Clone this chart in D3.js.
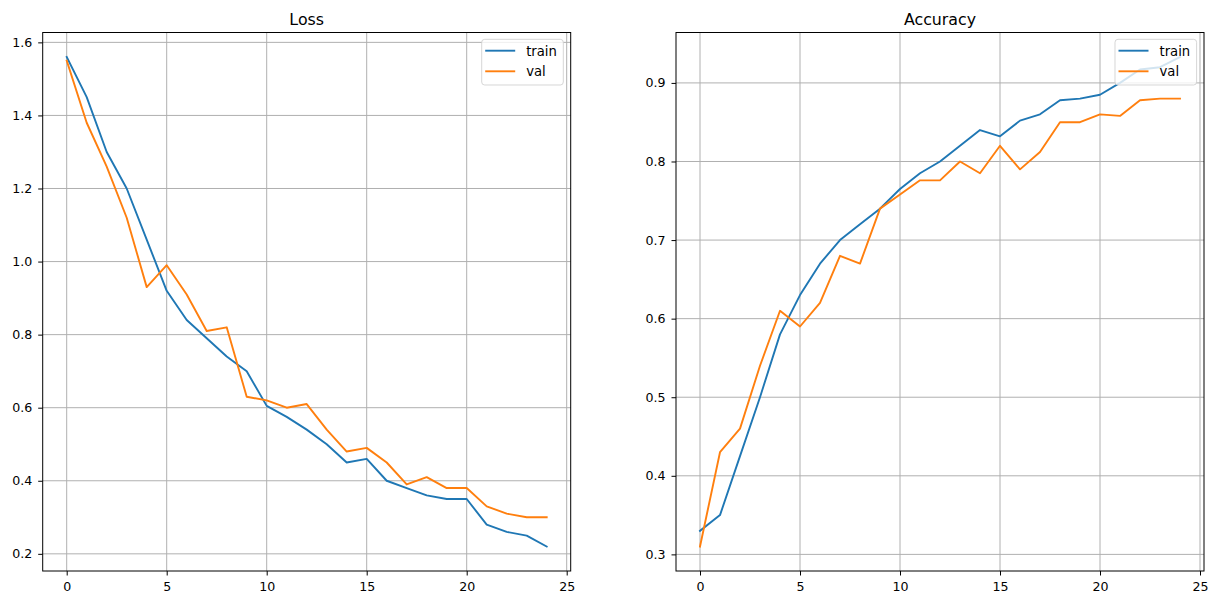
<!DOCTYPE html>
<html>
<head>
<meta charset="utf-8">
<script src="https://cdn.jsdelivr.net/npm/d3@7"></script>
<style>
  html, body { margin: 0; padding: 0; background: #fff; }
  svg { display: block; font-family: "DejaVu Sans", sans-serif; }
</style>
</head>
<body>
<svg id="chart" width="1219" height="605"></svg>
<script>
const epochs = [0,1,2,3,4,5,6,7,8,9,10,11,12,13,14,15,16,17,18,19,20,21,22,23,24];
const lossTrain = [1.56,1.45,1.30,1.20,1.06,0.92,0.84,0.79,0.74,0.70,0.605,0.575,0.54,0.50,0.45,0.46,0.40,0.38,0.36,0.35,0.35,0.28,0.26,0.25,0.22];
const lossVal   = [1.55,1.38,1.26,1.12,0.93,0.99,0.91,0.81,0.82,0.63,0.62,0.60,0.61,0.54,0.48,0.49,0.45,0.39,0.41,0.38,0.38,0.33,0.31,0.30,0.30];
const accTrain  = [0.33,0.35,0.425,0.50,0.58,0.63,0.67,0.70,0.72,0.74,0.765,0.785,0.80,0.82,0.84,0.832,0.852,0.86,0.878,0.88,0.885,0.90,0.917,0.92,0.933];
const accVal    = [0.31,0.43,0.46,0.54,0.61,0.59,0.62,0.68,0.67,0.74,0.758,0.776,0.776,0.80,0.785,0.82,0.79,0.812,0.85,0.85,0.86,0.858,0.878,0.88,0.88];
const xTicks = [0,5,10,15,20,25];
const lossTicks = [0.2,0.4,0.6,0.8,1.0,1.2,1.4,1.6];
const accTicks = [0.3,0.4,0.5,0.6,0.7,0.8,0.9];
const seriesNames = ["train","val"];
const titles = ["Loss","Accuracy"];

const colors = ["#1f77b4","#ff7f0e"];
const svg = d3.select("#chart");
svg.append("rect").attr("width",1219).attr("height",605).attr("fill","#fff");

function panel(left, right, title, series, yTicks, fmt) {
  const top = 32.5, bottom = 571;
  const xs = d3.scaleLinear().domain([-1.2, 25.2]).range([left, right]);
  const all = series.flat();
  const mn = d3.min(all), mx = d3.max(all), m = (mx - mn) * 0.05;
  const ys = d3.scaleLinear().domain([mn - m, mx + m]).range([bottom, top]);
  const g = svg.append("g");

  // grid
  g.append("g").selectAll("line").data(xTicks).join("line")
    .attr("x1", d => xs(d)).attr("x2", d => xs(d))
    .attr("y1", top).attr("y2", bottom)
    .attr("stroke", "#b0b0b0").attr("stroke-width", 1);
  g.append("g").selectAll("line").data(yTicks).join("line")
    .attr("x1", left).attr("x2", right)
    .attr("y1", d => ys(d)).attr("y2", d => ys(d))
    .attr("stroke", "#b0b0b0").attr("stroke-width", 1);

  // lines
  const line = d3.line().x((d,i) => xs(epochs[i])).y(d => ys(d));
  series.forEach((s, k) => {
    g.append("path").datum(s).attr("d", line)
      .attr("fill", "none").attr("stroke", colors[k])
      .attr("stroke-width", 1.9).attr("stroke-linejoin", "round").attr("stroke-linecap", "square");
  });

  // axes
  const xa = g.append("g").attr("transform", `translate(0,${bottom})`)
    .call(d3.axisBottom(xs).tickValues(xTicks).tickSize(4.5).tickPadding(6.5).tickFormat(d3.format("d")));
  const ya = g.append("g").attr("transform", `translate(${left},0)`)
    .call(d3.axisLeft(ys).tickValues(yTicks).tickSize(4.5).tickPadding(6).tickFormat(d3.format(fmt)));
  [xa, ya].forEach(a => {
    a.select(".domain").remove();
    a.selectAll("text").attr("font-size", "12.6px").attr("fill", "#000")
      .attr("font-family", "DejaVu Sans, sans-serif");
    a.selectAll("line").attr("stroke", "#000").attr("stroke-width", 1);
  });

  // spines
  g.append("rect").attr("x", left).attr("y", top)
    .attr("width", right - left).attr("height", bottom - top)
    .attr("fill", "none").attr("stroke", "#000").attr("stroke-width", 1);

  // title
  g.append("text").attr("x", (left + right) / 2).attr("y", 24.5)
    .attr("text-anchor", "middle").attr("font-size", "15.8px").attr("fill", "#000")
    .text(title);

  // legend
  const lw = 81.6, lh = 45.7;
  const lx = right - 7.4 - lw, ly = top + 6.8;
  const lg = g.append("g");
  lg.append("rect").attr("x", lx).attr("y", ly).attr("width", lw).attr("height", lh)
    .attr("rx", 3).attr("fill", "#fff").attr("fill-opacity", 0.8)
    .attr("stroke", "#cccccc").attr("stroke-opacity", 0.8).attr("stroke-width", 1);
  seriesNames.forEach((name, k) => {
    const yy = ly + 11.4 + k * 20.6;
    lg.append("line").attr("x1", lx + 3.5).attr("x2", lx + 33.5)
      .attr("y1", yy).attr("y2", yy).attr("stroke", colors[k]).attr("stroke-width", 1.9);
    lg.append("text").attr("x", lx + 44.5).attr("y", yy + 4.8)
      .attr("font-size", "13.2px").attr("fill", "#000").text(name);
  });
}

panel(42.7, 570.7, titles[0], [lossTrain, lossVal], lossTicks, ".1f");
panel(676, 1204, titles[1], [accTrain, accVal], accTicks, ".1f");
</script>
</body>
</html>
